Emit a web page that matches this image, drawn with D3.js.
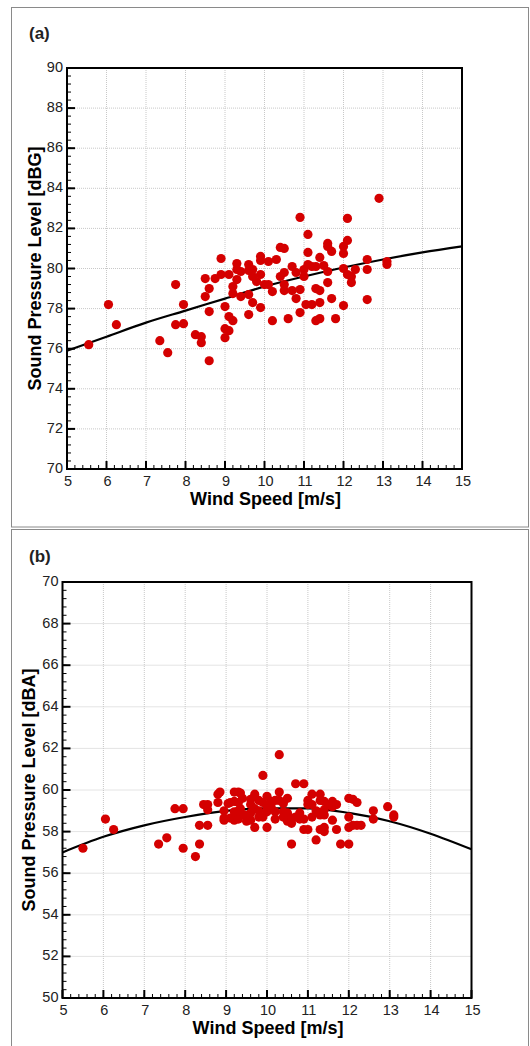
<!DOCTYPE html>
<html>
<head>
<meta charset="utf-8">
<script src="https://cdn.jsdelivr.net/npm/d3@7"></script>
<style>
  html, body { margin: 0; padding: 0; background: #fff; }
  svg { display: block; }
</style>
</head>
<body>
<svg id="chart" width="530" height="1046"></svg>
<script>
// tick labels
const windTicks = [5, 6, 7, 8, 9, 10, 11, 12, 13, 14, 15]
const dbgTicks = [70, 72, 74, 76, 78, 80, 82, 84, 86, 88, 90]
const dbaTicks = [50, 52, 54, 56, 58, 60, 62, 64, 66, 68, 70]

// (a) measured points [wind speed, dBG]
const dbgPoints = [
  [5.55,76.2],[6.05,78.2],[6.25,77.2],[7.35,76.4],[7.55,75.8],[7.75,79.2],[7.75,77.2],[7.95,78.2],
  [7.95,77.25],[8.25,76.7],[8.4,76.6],[8.4,76.3],[8.6,75.4],[8.5,78.6],[8.5,79.5],[8.6,79.0],
  [8.6,77.85],[8.75,79.5],[8.9,80.5],[8.9,79.7],[9.0,78.1],[9.0,77.0],[9.0,76.55],[9.1,79.7],
  [9.1,77.6],[9.1,76.9],[9.2,79.1],[9.2,77.4],[9.2,78.75],[9.3,80.25],[9.3,79.95],[9.3,79.45],
  [9.4,79.85],[9.4,78.6],[9.6,80.2],[9.6,79.9],[9.6,78.7],[9.6,77.7],[9.7,79.95],[9.7,79.6],
  [9.7,78.3],[9.8,79.35],[9.9,80.6],[9.9,80.4],[9.9,79.7],[9.9,78.05],[10.1,80.35],[10.0,79.2],
  [10.1,79.2],[10.2,78.85],[10.2,77.4],[10.3,80.45],[10.4,81.05],[10.4,79.6],
  [10.5,81.0],[10.5,79.8],[10.5,79.2],[10.5,78.9],[10.6,77.5],[10.7,78.9],[10.7,80.1],[10.8,79.8],
  [10.8,78.5],[10.9,82.55],[10.9,78.95],[10.9,77.8],[11.0,79.95],[11.0,79.6],[11.05,78.2],[11.1,81.7],
  [11.1,80.8],[11.1,80.2],[11.2,80.1],[11.2,78.2],[11.3,79.0],[11.3,80.1],[11.3,77.4],[11.4,78.9],
  [11.4,80.55],[11.4,78.3],[11.4,77.5],[11.5,80.15],[11.6,81.25],[11.6,81.1],[11.6,79.85],[11.6,79.3],
  [11.7,80.85],[11.7,78.5],[11.8,77.5],[12.0,81.1],[12.0,80.75],[12.0,80.0],[12.0,78.15],[12.1,82.5],
  [12.1,81.4],[12.1,79.7],[12.2,79.6],[12.2,79.3],[12.3,79.95],[12.6,80.45],[12.6,79.95],[12.6,78.45],
  [12.9,83.5],[13.1,80.35],[13.1,80.2]
]
// (a) fitted curve, read at each whole wind speed
const dbgFit = [
  [5,75.9],[6,76.6],[7,77.3],[8,77.9],[9,78.5],[10,79.1],[11,79.6],[12,80.05],[13,80.45],[14,80.8],[15,81.1]
]

// (b) measured points [wind speed, dBA]
const dbaPoints = [
  [5.5,57.2],[6.05,58.6],[6.25,58.1],
  [7.35,57.4],[7.55,57.7],[7.75,59.1],[7.95,59.1],[7.95,57.2],
  [8.25,56.8],[8.35,57.4],[8.35,58.3],[8.55,58.3],[8.45,59.3],[8.55,59.3],[8.55,59.05],
  [8.8,59.8],[8.85,59.9],[8.8,59.4],[8.95,59.0],[8.95,58.55],[8.95,58.65],
  [9.05,59.35],[9.1,58.65],[9.1,59.4],[9.2,59.9],[9.3,59.9],[9.2,58.55],[9.3,58.6],[9.2,58.95],
  [9.3,59.0],[9.2,59.45],[9.3,59.4],
  [9.35,59.85],[9.35,59.1],[9.4,59.6],[9.45,58.8],[9.5,58.5],
  [9.6,59.55],[9.6,58.55],[9.6,59.3],[9.6,58.9],[9.7,59.8],[9.7,58.2],[9.7,59.1],[9.8,59.5],[9.8,59.0],[9.8,58.7],
  [9.9,60.7],[9.9,59.4],[9.9,58.7],[10.0,59.7],[10.0,58.2],[10.0,59.2],[10.0,58.95],[10.1,59.2],[10.1,59.45],
  [10.2,58.6],[10.2,58.95],[10.2,59.5],[10.3,61.7],[10.3,59.9],[10.3,59.5],
  [10.4,59.35],[10.4,58.95],[10.4,58.7],[10.5,58.9],[10.5,58.5],[10.5,59.6],[10.6,58.4],[10.6,57.4],[10.6,58.65],
  [10.7,60.3],[10.9,60.3],[10.7,58.7],[10.8,58.9],[10.8,58.6],[10.9,58.1],[10.9,58.6],[11.0,58.1],[11.0,59.3],[11.0,59.5],
  [11.1,59.8],[11.1,59.3],[11.1,58.7],[11.2,57.6],[11.2,59.0],[11.3,59.5],[11.3,59.8],[11.3,58.1],[11.3,58.8],
  [11.4,59.05],[11.4,59.45],[11.4,58.2],[11.4,58.0],[11.4,58.8],[11.5,59.3],[11.6,59.2],[11.6,58.55],[11.6,59.45],
  [11.7,58.1],[11.7,59.3],
  [11.8,57.4],[12.0,57.4],[12.0,59.6],[12.1,59.55],[12.2,59.4],[12.0,58.7],[12.0,58.2],[12.1,58.3],[12.2,58.3],[12.3,58.3],
  [12.6,59.0],[12.6,58.6],[12.95,59.2],[13.1,58.8],[13.1,58.7]
]
// (b) fitted curve, read at each whole wind speed
const dbaFit = [
  [5,57.0],[6,57.75],[7,58.3],[8,58.7],[9,59.0],[10,59.12],[11,59.12],[12,58.9],[13,58.5],[14,57.9],[15,57.15]
]

const svg = d3.select("#chart")
const FONT = "'Liberation Sans', Arial, sans-serif"
const RED = "#d40000"

// outer panel frames
svg.append("rect").attr("x", 11.5).attr("y", 7.5).attr("width", 517).attr("height", 519.5)
    .attr("fill", "none").attr("stroke", "#8a8a8a").attr("stroke-width", 1)
svg.append("rect").attr("x", 11.5).attr("y", 529.5).attr("width", 517).attr("height", 530)
    .attr("fill", "none").attr("stroke", "#8a8a8a").attr("stroke-width", 1)

function drawPanel(cfg) {
    const g = svg.append("g")
    const x = d3.scaleLinear().domain([5, 15]).range([cfg.left, cfg.right])
    const y = d3.scaleLinear().domain(cfg.yDomain).range([cfg.bottom, cfg.top])

    // grid (dotted)
    g.append("g").selectAll("line.vx")
        .data(windTicks.slice(1, -1))
        .join("line")
        .attr("x1", d => x(d)).attr("x2", d => x(d))
        .attr("y1", cfg.top).attr("y2", cfg.bottom)
        .attr("stroke", "#c8c8c8").attr("stroke-width", 1).attr("stroke-dasharray", "1,1")
    g.append("g").selectAll("line.hy")
        .data(cfg.yTicks.slice(1, -1))
        .join("line")
        .attr("x1", cfg.left).attr("x2", cfg.right)
        .attr("y1", d => y(d)).attr("y2", d => y(d))
        .attr("stroke", "#c8c8c8").attr("stroke-width", 1).attr("stroke-dasharray", "1,1")

    // minor ticks, pointing inward
    const xMinor = d3.range(5, 15.001, 0.2)
    const yMinor = d3.range(cfg.yDomain[0], cfg.yDomain[1] + 0.001, 0.4)
    g.append("g").selectAll("line")
        .data(xMinor)
        .join("line")
        .attr("x1", d => x(d)).attr("x2", d => x(d))
        .attr("y1", cfg.bottom).attr("y2", cfg.bottom - 4)
        .attr("stroke", "#000").attr("stroke-width", 1)
    g.append("g").selectAll("line")
        .data(yMinor)
        .join("line")
        .attr("x1", cfg.left).attr("x2", cfg.left + 4)
        .attr("y1", d => y(d)).attr("y2", d => y(d))
        .attr("stroke", "#000").attr("stroke-width", 1)

    // major ticks
    g.append("g").selectAll("line")
        .data(windTicks)
        .join("line")
        .attr("x1", d => x(d)).attr("x2", d => x(d))
        .attr("y1", cfg.bottom).attr("y2", cfg.bottom - 8)
        .attr("stroke", "#000").attr("stroke-width", 2)
    g.append("g").selectAll("line")
        .data(cfg.yTicks)
        .join("line")
        .attr("x1", cfg.left).attr("x2", cfg.left + 8)
        .attr("y1", d => y(d)).attr("y2", d => y(d))
        .attr("stroke", "#000").attr("stroke-width", 2)

    // fit curve
    const line = d3.line()
        .x(d => x(d[0]))
        .y(d => y(d[1]))
        .curve(d3.curveMonotoneX)
    g.append("path")
        .datum(cfg.fit)
        .attr("d", line)
        .attr("fill", "none")
        .attr("stroke", "#000")
        .attr("stroke-width", 2.2)

    // points
    g.append("g").selectAll("circle")
        .data(cfg.points)
        .join("circle")
        .attr("cx", d => x(d[0]))
        .attr("cy", d => y(d[1]))
        .attr("r", 4.6)
        .attr("fill", RED)

    // frame
    g.append("rect")
        .attr("x", cfg.left).attr("y", cfg.top)
        .attr("width", cfg.right - cfg.left).attr("height", cfg.bottom - cfg.top)
        .attr("fill", "none").attr("stroke", "#000").attr("stroke-width", 2)

    // tick labels
    g.append("g").selectAll("text")
        .data(windTicks)
        .join("text")
        .attr("x", d => x(d) + 1)
        .attr("y", cfg.bottom + 17)
        .attr("text-anchor", "middle")
        .attr("font-family", FONT).attr("font-size", "14.5px").attr("fill", "#222")
        .text(d => d)
    g.append("g").selectAll("text")
        .data(cfg.yTicks)
        .join("text")
        .attr("x", cfg.left - 4)
        .attr("y", d => y(d) + 4)
        .attr("text-anchor", "end")
        .attr("font-family", FONT).attr("font-size", "14.5px").attr("fill", "#222")
        .text(d => d)

    // axis titles
    g.append("text")
        .attr("x", (cfg.left + cfg.right) / 2 + 1)
        .attr("y", cfg.bottom + 36)
        .attr("text-anchor", "middle")
        .attr("font-family", FONT).attr("font-size", "18px").attr("font-weight", "bold")
        .text("Wind Speed [m/s]")
    g.append("text")
        .attr("transform", `translate(${cfg.yTitleX},${(cfg.top + cfg.bottom) / 2}) rotate(-90)`)
        .attr("text-anchor", "middle")
        .attr("font-family", FONT).attr("font-size", "18px").attr("font-weight", "bold")
        .text(cfg.yTitle)

    // panel letter
    g.append("text")
        .attr("x", 29).attr("y", cfg.letterY)
        .attr("font-family", FONT).attr("font-size", "17px").attr("font-weight", "bold")
        .attr("fill", "#222")
        .text(cfg.letter)
}

drawPanel({
    left: 67, right: 462, top: 68, bottom: 469,
    yDomain: [70, 90], yTicks: dbgTicks,
    points: dbgPoints, fit: dbgFit,
    yTitle: "Sound Pressure Level [dBG]", yTitleX: 41,
    letter: "(a)", letterY: 39
})

drawPanel({
    left: 62.5, right: 471.5, top: 582, bottom: 998,
    yDomain: [50, 70], yTicks: dbaTicks,
    points: dbaPoints, fit: dbaFit,
    yTitle: "Sound Pressure Level [dBA]", yTitleX: 35,
    letter: "(b)", letterY: 562
})
</script>
</body>
</html>
